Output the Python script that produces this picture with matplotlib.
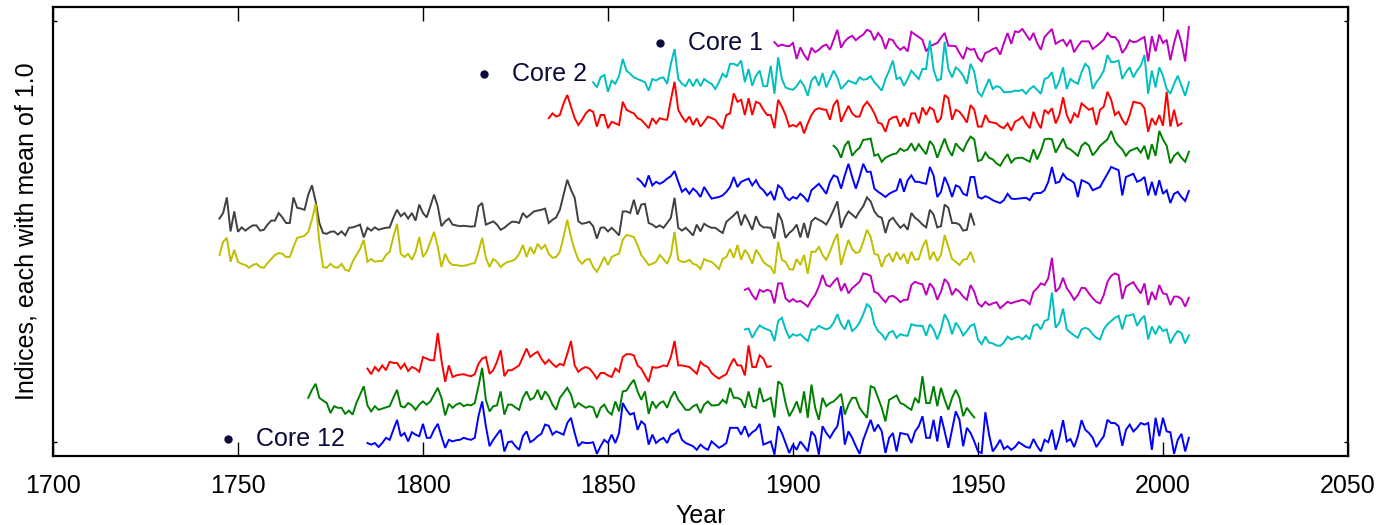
import numpy as np
import matplotlib
matplotlib.use("Agg")
import matplotlib.pyplot as plt

plt.rcParams['font.family'] = ['Liberation Sans', 'DejaVu Sans']

# ring-width indices, one list per core (top of the stack = Core 1)
core_start = [1895, 1846, 1834, 1911, 1858, 1745, 1745, 1887, 1887, 1785, 1769, 1785]

core1 = [1.02, 0.92, 0.96, 0.93, 0.92, 1.00, 0.60, 0.89, 0.71, 0.57,
         0.88, 0.77, 0.83, 0.92, 0.96, 0.83, 1.08, 1.33, 0.88, 1.04,
         1.13, 1.18, 1.07, 1.15, 1.21, 1.33, 1.29, 1.07, 1.25, 1.13,
         0.85, 1.10, 1.07, 0.92, 0.83, 0.90, 0.79, 1.28, 1.21, 1.15,
         1.08, 0.79, 0.92, 0.96, 1.00, 1.13, 1.25, 0.93, 0.93, 0.92,
         0.75, 0.60, 0.88, 0.83, 0.85, 0.63, 0.54, 0.75, 0.79, 0.85,
         0.88, 0.71, 1.00, 1.25, 0.98, 1.29, 1.27, 1.35, 1.21, 1.07,
         1.25, 1.00, 0.83, 1.15, 1.25, 1.35, 0.98, 1.04, 1.08, 0.93,
         1.08, 0.77, 0.92, 1.04, 1.04, 1.04, 0.85, 0.92, 1.00, 1.08,
         1.25, 1.15, 1.15, 1.04, 0.75, 0.88, 1.07, 1.02, 1.04, 1.10,
         1.15, 0.54, 1.17, 0.79, 1.21, 1.00, 1.08, 0.57, 1.00, 1.33,
         1.00, 0.54, 1.40]

core2 = [0.92, 0.79, 1.04, 1.10, 0.68, 0.96, 0.88, 1.08, 1.50, 1.21,
         1.13, 1.04, 1.00, 0.96, 0.92, 0.71, 1.00, 0.96, 1.02, 1.04,
         0.88, 1.38, 1.75, 1.00, 0.88, 0.82, 1.00, 0.82, 1.00, 0.82,
         1.00, 0.93, 0.88, 0.75, 0.92, 1.13, 1.04, 1.38, 1.38, 1.33,
         1.46, 0.92, 1.25, 0.83, 1.08, 1.21, 0.82, 0.82, 1.33, 0.63,
         1.54, 1.00, 0.79, 0.75, 0.73, 0.82, 0.96, 0.83, 0.58, 0.96,
         1.07, 0.83, 1.15, 0.79, 1.00, 1.21, 1.04, 0.75, 0.85, 0.96,
         0.92, 0.88, 1.04, 0.98, 1.00, 1.07, 0.92, 0.82, 0.71, 1.00,
         1.21, 1.46, 1.00, 1.04, 0.83, 1.00, 1.21, 1.10, 1.00, 1.25,
         1.25, 1.96, 1.23, 0.96, 1.00, 1.93, 1.25, 1.04, 1.29, 1.21,
         1.08, 0.88, 1.38, 1.18, 0.67, 0.57, 0.79, 1.00, 0.75, 0.82,
         0.79, 0.67, 0.67, 0.68, 0.71, 0.70, 0.73, 0.63, 0.75, 0.82,
         0.73, 0.63, 1.00, 1.04, 1.17, 0.75, 0.96, 1.29, 0.75, 1.00,
         0.93, 0.88, 1.17, 1.38, 1.29, 0.75, 0.92, 1.04, 1.21, 1.60,
         1.42, 1.43, 1.46, 1.00, 1.17, 1.29, 1.04, 1.21, 1.33, 1.60,
         0.63, 1.21, 0.79, 1.29, 1.08, 0.75, 0.63, 0.88, 1.08, 0.83,
         0.58, 0.92]

core3 = [0.92, 1.04, 0.96, 1.00, 1.29, 1.50, 1.21, 0.92, 0.75, 0.88,
         1.04, 1.13, 1.08, 0.71, 1.00, 1.00, 0.67, 0.83, 0.79, 0.75,
         1.33, 1.13, 1.08, 1.04, 0.92, 0.88, 0.78, 0.67, 0.92, 0.79,
         0.92, 0.89, 0.88, 1.38, 1.83, 1.13, 0.96, 0.83, 0.96, 0.75,
         0.92, 0.71, 0.83, 0.96, 0.92, 0.88, 0.75, 0.67, 1.00, 1.04,
         1.54, 1.33, 1.38, 1.00, 1.42, 1.00, 1.33, 1.29, 1.13, 1.00,
         1.00, 0.67, 1.38, 1.21, 1.00, 0.71, 0.75, 0.71, 0.83, 0.54,
         0.79, 1.00, 1.13, 1.17, 1.14, 1.13, 0.88, 1.25, 1.38, 0.83,
         1.04, 1.23, 1.04, 0.96, 0.96, 1.21, 1.33, 1.21, 1.04, 0.81,
         0.78, 0.58, 0.88, 0.94, 0.96, 0.71, 0.92, 0.71, 1.04, 1.04,
         0.79, 1.19, 1.00, 1.19, 1.13, 0.81, 0.92, 1.50, 1.42, 0.88,
         1.13, 1.08, 0.96, 0.81, 1.25, 1.13, 0.71, 0.71, 1.00, 0.83,
         0.81, 0.79, 0.71, 0.67, 0.79, 0.61, 0.83, 0.88, 0.96, 0.79,
         0.67, 1.08, 0.83, 0.67, 1.13, 1.04, 1.17, 0.79, 1.00, 1.44,
         1.00, 0.79, 1.04, 0.94, 1.29, 1.21, 1.13, 1.17, 0.75, 1.13,
         1.21, 1.58, 1.38, 1.00, 1.08, 0.88, 0.75, 1.00, 1.33, 1.31,
         1.29, 1.17, 0.58, 0.92, 0.75, 1.00, 0.73, 1.58, 0.71, 1.13,
         0.73, 0.79]

core4 = [1.13, 1.04, 0.83, 1.13, 1.25, 0.88, 1.00, 1.08, 1.28, 1.29,
         1.31, 0.88, 0.92, 0.73, 0.83, 0.88, 0.92, 0.94, 1.06, 1.00,
         1.04, 1.19, 1.00, 1.17, 1.04, 0.92, 1.25, 1.13, 0.83, 1.08,
         1.31, 1.04, 0.88, 1.19, 1.08, 1.00, 1.21, 1.36, 1.29, 0.75,
         0.78, 0.96, 0.83, 0.79, 0.69, 0.63, 0.79, 0.92, 0.71, 0.81,
         0.83, 0.83, 0.78, 0.73, 1.04, 0.79, 1.00, 1.29, 1.31, 1.29,
         0.96, 1.13, 1.31, 1.08, 1.04, 0.96, 0.88, 1.13, 1.21, 1.13,
         0.89, 1.00, 1.13, 1.21, 1.29, 1.50, 1.25, 1.13, 1.04, 0.88,
         1.00, 1.04, 1.08, 0.96, 1.13, 0.79, 1.17, 0.88, 1.50, 1.29,
         1.13, 0.69, 0.88, 0.96, 0.83, 0.73, 0.98]

core5 = [1.21, 1.13, 1.00, 1.29, 1.04, 1.13, 1.08, 1.13, 1.21, 1.27,
         1.40, 1.13, 0.88, 0.96, 0.83, 0.96, 0.88, 0.75, 1.00, 0.85,
         0.71, 0.73, 0.75, 0.79, 0.88, 1.00, 1.25, 1.00, 1.13, 1.17,
         1.21, 1.04, 1.17, 1.00, 0.92, 0.79, 0.88, 0.67, 1.04, 0.96,
         0.75, 0.67, 0.75, 0.71, 0.83, 0.75, 0.63, 0.92, 1.00, 1.08,
         0.96, 0.83, 1.13, 1.29, 1.25, 0.96, 1.29, 1.58, 1.25, 0.96,
         1.25, 1.58, 1.38, 1.38, 0.96, 0.88, 0.82, 0.75, 0.83, 0.88,
         0.92, 1.21, 0.88, 1.17, 1.29, 1.13, 1.13, 1.10, 1.08, 1.50,
         1.29, 0.75, 0.88, 1.25, 1.04, 0.75, 1.04, 1.00, 0.83, 0.79,
         1.25, 1.25, 0.75, 0.71, 0.77, 0.73, 0.67, 0.63, 0.60, 0.67,
         0.83, 0.71, 0.70, 0.71, 0.72, 0.73, 0.67, 0.83, 0.85, 0.85,
         0.92, 1.13, 1.50, 1.10, 1.13, 1.33, 1.21, 1.17, 1.10, 0.75,
         1.17, 1.13, 1.08, 0.92, 0.96, 1.00, 1.17, 1.33, 1.50, 1.46,
         1.42, 0.79, 1.25, 1.29, 1.33, 1.13, 1.17, 1.25, 0.79, 1.13,
         0.79, 1.17, 0.83, 0.92, 0.60, 0.83, 0.88, 0.75, 0.65, 0.90]

core6 = [1.11, 1.25, 1.64, 0.79, 1.29, 0.78, 0.89, 0.81, 0.88, 0.94,
         0.94, 0.81, 0.83, 0.96, 1.06, 1.06, 1.25, 1.14, 1.00, 1.00,
         1.64, 1.38, 1.36, 1.33, 1.71, 1.94, 1.54, 1.00, 0.75, 0.73,
         0.78, 0.79, 0.71, 0.79, 0.69, 0.88, 0.89, 0.92, 0.96, 0.64,
         0.88, 0.81, 0.89, 0.83, 0.86, 0.88, 0.89, 1.13, 1.33, 1.17,
         1.25, 1.11, 1.25, 1.06, 1.46, 1.25, 1.14, 1.42, 1.71, 1.42,
         0.92, 1.04, 1.11, 0.96, 0.94, 0.92, 0.93, 0.92, 0.91, 0.92,
         1.42, 1.50, 0.96, 1.00, 1.04, 0.96, 0.83, 0.88, 0.96, 1.03,
         1.03, 1.00, 1.25, 1.14, 1.21, 1.29, 1.31, 1.33, 1.36, 1.00,
         1.08, 1.14, 1.33, 1.71, 2.08, 1.83, 1.63, 1.04, 0.98, 1.00,
         1.03, 0.92, 0.61, 0.88, 0.89, 0.79, 0.88, 0.79, 0.69, 1.29,
         1.29, 1.25, 1.58, 1.21, 1.46, 1.48, 1.00, 0.96, 0.89, 0.94,
         0.88, 1.00, 1.13, 1.63, 0.88, 0.81, 0.88, 0.79, 0.69, 0.96,
         0.79, 0.98, 0.92, 0.88, 0.88, 0.81, 0.75, 1.03, 1.11, 1.19,
         1.29, 0.94, 1.21, 1.03, 0.83, 1.17, 0.96, 0.89, 0.89, 0.88,
         0.61, 1.25, 1.06, 0.63, 0.75, 0.83, 0.96, 0.64, 1.00, 0.63,
         1.04, 1.13, 1.08, 1.03, 0.96, 1.13, 1.33, 1.54, 0.88, 1.13,
         1.29, 1.21, 1.13, 1.29, 1.42, 1.64, 1.54, 1.29, 1.17, 1.13,
         0.75, 1.06, 1.13, 1.00, 0.88, 0.96, 0.83, 1.25, 1.13, 1.06,
         0.96, 0.89, 1.33, 1.21, 0.89, 0.92, 1.46, 1.38, 1.00, 1.00,
         0.96, 0.81, 0.83, 1.25, 0.96]

core7 = [1.10, 1.43, 1.53, 0.93, 1.23, 0.93, 0.88, 0.85, 0.78, 0.85,
         0.88, 0.80, 0.78, 0.90, 1.00, 1.10, 1.15, 1.13, 1.05, 1.05,
         1.30, 1.53, 1.55, 1.58, 1.68, 1.98, 2.38, 1.43, 0.80, 0.78,
         0.88, 0.80, 0.78, 0.88, 0.73, 0.70, 0.93, 1.10, 1.25, 1.48,
         0.93, 1.00, 0.93, 0.95, 0.95, 1.10, 1.18, 1.55, 1.88, 1.13,
         1.05, 1.13, 0.98, 1.18, 1.55, 1.05, 1.18, 1.43, 1.68, 1.30,
         0.80, 1.13, 0.93, 0.85, 0.85, 0.83, 0.83, 0.85, 0.88, 0.90,
         1.18, 1.53, 1.03, 0.80, 1.00, 0.93, 0.80, 0.88, 0.93, 0.95,
         1.00, 1.13, 1.35, 1.05, 1.30, 1.13, 1.38, 1.25, 1.35, 1.13,
         1.03, 1.05, 1.18, 1.55, 1.98, 1.55, 1.23, 0.98, 0.88, 0.98,
         1.00, 0.80, 0.68, 0.85, 1.05, 0.85, 1.05, 1.10, 1.13, 1.48,
         1.60, 1.58, 1.55, 1.35, 1.10, 0.98, 0.85, 0.88, 0.93, 1.10,
         1.00, 0.88, 1.10, 1.68, 0.98, 0.93, 0.93, 0.98, 0.88, 0.85,
         0.75, 1.00, 0.95, 0.93, 0.85, 0.75, 1.00, 1.05, 1.25, 1.03,
         1.35, 0.98, 1.23, 1.10, 0.88, 1.23, 1.10, 0.93, 0.85, 0.80,
         0.63, 1.43, 0.98, 0.93, 0.75, 0.73, 1.00, 0.85, 1.10, 0.63,
         1.18, 1.18, 1.30, 1.10, 0.98, 1.18, 1.43, 1.63, 0.85, 1.18,
         1.48, 1.25, 1.15, 1.18, 1.43, 1.73, 1.55, 1.13, 1.10, 0.80,
         1.05, 1.13, 0.93, 1.18, 0.98, 1.13, 0.88, 1.18, 0.98, 1.00,
         1.30, 1.48, 0.98, 1.18, 0.95, 1.10, 1.60, 1.30, 1.00, 0.93,
         0.85, 0.98, 1.00, 1.18, 0.93]

core8 = [1.13, 1.17, 1.00, 0.88, 1.13, 1.08, 1.13, 1.10, 0.79, 1.29,
         1.29, 0.92, 0.83, 0.90, 0.83, 0.85, 0.79, 0.71, 0.88, 1.00,
         1.21, 1.50, 1.25, 1.21, 1.33, 1.43, 1.10, 1.29, 1.04, 1.17,
         1.25, 1.33, 1.54, 1.52, 1.48, 1.08, 1.04, 0.92, 0.82, 0.96,
         0.98, 0.92, 0.82, 0.88, 0.88, 1.25, 1.33, 1.29, 1.27, 1.00,
         1.29, 1.17, 0.88, 1.08, 1.40, 1.29, 1.00, 1.15, 1.08, 0.96,
         0.88, 1.25, 1.08, 0.79, 0.71, 0.83, 0.75, 0.79, 0.82, 0.67,
         0.75, 0.83, 0.79, 0.83, 0.85, 0.88, 0.85, 0.77, 1.08, 1.17,
         1.29, 1.25, 1.42, 1.93, 1.08, 1.18, 1.43, 1.17, 1.04, 0.88,
         1.00, 1.18, 1.17, 1.04, 0.92, 0.83, 0.79, 1.00, 1.33, 1.48,
         1.54, 1.50, 0.90, 1.21, 1.27, 1.32, 1.17, 1.04, 1.29, 0.75,
         1.08, 0.88, 1.25, 1.04, 1.02, 0.75, 0.96, 0.96, 0.90, 0.71,
         0.93]

core9 = [1.04, 1.06, 0.83, 1.00, 1.14, 1.08, 1.04, 1.00, 0.75, 1.25,
         1.33, 1.04, 0.83, 0.92, 0.88, 0.92, 0.83, 0.75, 1.04, 1.03,
         1.13, 1.08, 1.04, 1.08, 1.21, 1.42, 1.17, 1.04, 1.28, 1.00,
         1.08, 1.21, 1.42, 1.67, 1.58, 1.17, 1.00, 0.92, 0.79, 0.96,
         1.00, 0.83, 0.92, 0.89, 0.88, 1.17, 1.14, 1.13, 1.13, 0.88,
         1.17, 1.04, 0.79, 1.04, 1.42, 1.25, 0.92, 1.21, 1.08, 0.89,
         1.00, 1.13, 1.17, 0.79, 0.67, 0.86, 0.71, 0.69, 0.64, 0.63,
         0.71, 0.86, 0.79, 0.83, 0.86, 0.79, 0.89, 0.79, 1.13, 1.17,
         1.04, 1.25, 1.29, 1.96, 1.08, 1.21, 1.56, 1.04, 0.96, 0.89,
         0.83, 1.04, 1.08, 1.04, 0.92, 0.83, 0.79, 1.04, 1.17, 1.25,
         1.33, 1.38, 1.04, 1.38, 1.39, 1.42, 1.13, 1.29, 1.38, 0.79,
         1.11, 0.92, 1.13, 1.00, 1.04, 0.69, 0.88, 1.00, 0.95, 0.69,
         0.89]

core10 = [0.96, 0.82, 1.00, 0.90, 1.04, 0.92, 1.13, 1.10, 1.10, 0.96,
          1.08, 0.90, 1.00, 0.96, 0.88, 1.25, 1.21, 1.17, 1.17, 1.85,
          1.17, 0.63, 1.04, 0.75, 0.79, 0.81, 0.82, 0.79, 0.77, 0.82,
          1.08, 1.21, 1.25, 0.83, 0.92, 1.13, 1.42, 0.77, 0.92, 0.92,
          0.98, 1.04, 1.25, 1.46, 1.25, 1.33, 1.38, 1.21, 1.08, 1.18,
          1.08, 1.00, 1.08, 1.04, 1.33, 1.65, 1.04, 0.88, 0.96, 1.00,
          0.96, 0.85, 0.71, 0.85, 0.85, 0.79, 0.75, 0.96, 0.88, 1.25,
          1.32, 1.32, 1.29, 1.04, 0.96, 0.79, 0.63, 1.00, 0.98, 1.00,
          1.04, 1.02, 1.25, 1.65, 1.04, 1.04, 1.02, 1.00, 0.92, 0.83,
          1.13, 1.04, 1.00, 0.85, 0.77, 0.71, 0.77, 0.82, 1.04, 1.21,
          1.04, 1.04, 0.79, 1.54, 1.00, 1.00, 1.29, 1.21, 1.00, 1.02]

core11 = [1.13, 1.33, 1.48, 1.13, 1.06, 1.00, 0.75, 0.92, 0.88, 0.88,
          0.73, 0.81, 0.71, 1.00, 1.21, 1.42, 0.94, 0.79, 0.92, 0.83,
          0.86, 0.89, 0.92, 1.13, 1.33, 0.92, 0.89, 1.00, 0.94, 0.83,
          0.96, 1.04, 0.96, 1.04, 1.21, 1.38, 1.13, 0.69, 0.98, 0.88,
          0.96, 1.00, 0.92, 0.96, 0.94, 1.00, 1.42, 1.88, 1.08, 0.79,
          0.92, 0.94, 1.29, 0.71, 0.96, 0.96, 0.89, 0.83, 1.13, 1.29,
          1.08, 1.13, 1.33, 1.08, 1.29, 1.17, 0.96, 0.83, 1.13, 1.25,
          1.38, 1.21, 0.88, 1.00, 0.94, 0.88, 0.92, 0.89, 0.63, 0.88,
          0.96, 0.79, 0.71, 1.04, 0.79, 1.29, 1.31, 1.46, 1.58, 1.29,
          1.08, 1.29, 0.73, 1.04, 0.88, 1.00, 1.04, 0.88, 1.13, 1.29,
          1.08, 0.96, 0.83, 0.83, 0.92, 0.96, 0.75, 0.96, 1.04, 0.94,
          0.94, 0.96, 1.08, 1.00, 1.38, 1.13, 1.13, 1.08, 0.88, 1.29,
          0.92, 0.88, 1.38, 1.04, 1.08, 1.13, 0.64, 1.54, 1.46, 1.00,
          0.67, 0.83, 1.04, 0.75, 1.29, 0.63, 1.46, 0.88, 0.58, 1.13,
          0.92, 1.00, 1.04, 1.13, 1.23, 0.71, 0.96, 1.13, 1.13, 0.88,
          0.75, 0.63, 1.42, 1.38, 1.13, 0.88, 0.54, 1.08, 1.13, 1.19,
          1.00, 0.96, 0.89, 0.83, 1.13, 1.00, 1.67, 1.00, 1.00, 1.42,
          0.92, 1.38, 1.08, 0.83, 1.13, 1.33, 1.13, 0.67, 0.88, 0.75,
          0.64]

core12 = [0.90, 0.86, 0.90, 0.80, 0.90, 1.03, 0.98, 1.23, 1.48, 1.07,
          1.15, 0.94, 1.17, 1.11, 1.07, 1.38, 1.03, 1.03, 1.23, 1.38,
          1.07, 0.78, 0.98, 0.94, 0.97, 0.98, 1.03, 1.00, 0.98, 1.03,
          1.57, 1.94, 1.32, 0.82, 0.98, 1.11, 1.23, 0.69, 0.92, 0.94,
          0.82, 0.73, 1.07, 1.19, 0.92, 0.98, 1.07, 1.13, 1.36, 1.33,
          1.11, 1.19, 1.15, 1.11, 1.40, 1.53, 1.15, 0.82, 0.92, 0.90,
          0.90, 0.92, 0.63, 0.82, 0.98, 0.90, 1.11, 0.90, 1.15, 1.90,
          1.73, 1.61, 1.65, 1.23, 1.44, 1.36, 0.86, 1.11, 0.90, 0.98,
          1.03, 0.90, 1.11, 1.15, 1.23, 0.98, 0.90, 0.86, 0.82, 0.73,
          0.86, 0.78, 0.73, 0.94, 0.86, 0.78, 0.83, 0.90, 1.28, 1.28,
          1.28, 1.11, 1.32, 1.07, 1.17, 1.23, 1.38, 0.86, 0.90, 0.94,
          0.61, 1.32, 1.15, 0.90, 0.65, 0.86, 0.73, 0.94, 0.82, 0.69,
          1.19, 1.07, 0.61, 1.32, 1.15, 1.03, 1.19, 1.32, 1.82, 0.86,
          1.19, 1.03, 0.82, 0.63, 0.98, 1.23, 1.48, 1.19, 1.36, 1.19,
          0.65, 1.03, 1.15, 0.69, 1.15, 1.13, 1.11, 0.90, 1.19, 1.32,
          1.57, 1.03, 1.03, 1.48, 0.94, 1.57, 1.19, 0.78, 1.23, 1.69,
          1.48, 0.82, 1.28, 1.15, 0.94, 0.69, 0.65, 1.67, 1.11, 0.69,
          0.82, 0.98, 0.75, 0.82, 0.73, 0.80, 0.92, 0.86, 0.80, 0.78,
          1.00, 0.82, 0.69, 0.98, 0.92, 1.23, 0.73, 1.03, 1.47, 0.94,
          1.00, 0.80, 1.07, 1.47, 1.23, 1.15, 1.03, 0.80, 0.94, 1.07,
          1.48, 1.40, 1.40, 1.32, 0.83, 1.23, 1.36, 1.19, 1.28, 1.40,
          1.36, 1.40, 0.73, 1.53, 1.07, 1.53, 1.19, 1.17, 0.63, 0.98,
          1.13, 0.69, 1.03]

cores = [core1, core2, core3, core4, core5, core6,
         core7, core8, core9, core10, core11, core12]

core_colors = ['#bf00bf', '#00bfbf', '#ff0000', '#008000', '#0000ff', '#404040',
               '#bfbf00', '#bf00bf', '#00bfbf', '#ff0000', '#008000', '#0000ff']

# labelled cores: (name, dot year, dot height)
labels = [('Core 1', 1864, 10.33), ('Core 2', 1816.5, 9.55), ('Core 12', 1747.3, 0.42)]

# vertical stacking of the cores
top_offset = 9.325
spacing = 0.9

fig = plt.figure(figsize=(13.79, 5.25), dpi=100)
ax = fig.add_axes([0.0384, 0.1314, 0.9391, 0.8553])

for i, vals in enumerate(cores):
    years = np.arange(core_start[i], core_start[i] + len(vals))
    ax.plot(years, np.array(vals) + top_offset - spacing * i,
            color=core_colors[i], lw=1.4, solid_joinstyle='miter')

text_col = '#0b0b3b'
for name, xd, yd in labels:
    ax.plot([xd], [yd], 'o', color=text_col, ms=5)
    ax.text(xd + 7.6, yd, name, color=text_col, fontsize=18, va='center', ha='left')

ax.set_xlim(1700, 2050)
ax.set_ylim(0, 11.225)
ax.set_xticks(np.arange(1700, 2051, 50))
ax.set_yticks([0.35, 10.875])
ax.set_yticklabels([])
ax.tick_params(axis='x', direction='in', length=10, width=1, top=True,
               labelsize=18, pad=13)
ax.tick_params(axis='y', direction='in', length=3, width=1, right=True)
for s in ax.spines.values():
    s.set_linewidth(1.6)

ax.set_xlabel('Year', fontsize=18, labelpad=4)
ax.set_ylabel('Indices, each with mean of 1.0', fontsize=18, labelpad=7)

fig.savefig('out.png', dpi=100)
